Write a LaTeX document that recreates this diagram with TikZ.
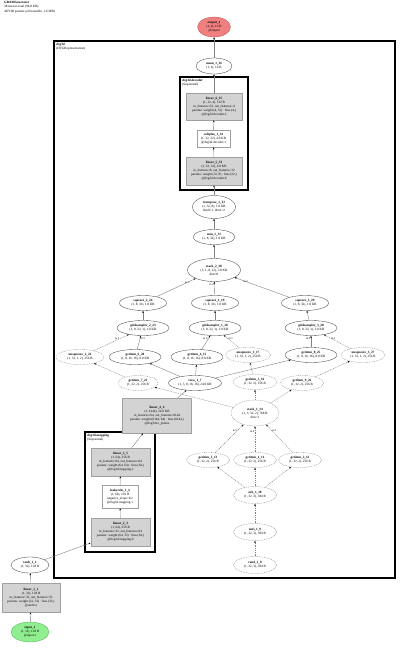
\documentclass[tikz,border=0pt]{standalone}
\usepackage{fontspec}
\setmainfont{Liberation Serif}
\usetikzlibrary{shapes.geometric,arrows.meta}
\newcommand{\fs}{\fontsize{3.3}{4.1}\selectfont}
\newcommand{\fe}{\fontsize{2.8}{3}\selectfont}
\definecolor{modfill}{HTML}{D3D3D3}
\definecolor{modline}{HTML}{A0A0A0}
\definecolor{outfill}{HTML}{F08080}
\definecolor{outline}{HTML}{C05050}
\definecolor{infill}{HTML}{90EE90}
\definecolor{inline}{HTML}{50B050}
\definecolor{edgec}{HTML}{808080}
\tikzset{
  tn/.style={ellipse, draw=black!80, line width=0.3pt, fill=white, inner sep=0pt, font=\fs, align=center},
  tnd/.style={tn, draw=gray, dash pattern=on 1pt off 0.8pt},
  mb/.style={rectangle, draw=modline, fill=modfill, line width=0.5pt, inner sep=0pt, font=\fs, align=center},
  fb/.style={rectangle, draw=modline, fill=white, line width=0.5pt, inner sep=0pt, font=\fs, align=center},
  clu/.style={draw=black, line width=1.1pt},
  e/.style={draw=edgec, line width=0.4pt, -{Stealth[length=2.2pt,width=1.6pt,black]}},
  ed/.style={e, dash pattern=on 1pt off 0.8pt},
  el/.style={font=\fe, inner sep=0.5pt},
  ttl/.style={font=\fs, align=left, anchor=north west, inner sep=0pt}
}
\begin{document}
\begin{tikzpicture}[x=1pt,y=-1pt]
\useasboundingbox (0,0) rectangle (400,648);
% title
\node[ttl] (title) at (4,1.5) {\textbf{GRAMGenerator}\\38 tensors total (96.8 KB)\\407108 params (all trainable, 1.6 MB)};
% clusters
\draw[clu] (54,41) rectangle (395,578);
\node[ttl] (lblouter) at (56,43) {\textbf{dvg3d}\\(DVGRepresentation)};
\draw[clu] (180,77) rectangle (248,190);
\node[ttl] (lbldec) at (182,79) {\textbf{dvg3d.decoder}\\(Sequential)};
\draw[clu] (85,432) rectangle (155,552);
\node[ttl] (lblmap) at (87,434) {\textbf{dvg3d.mapping}\\(Sequential)};
% nodes
\node[tn, fill=outfill, draw=outline, minimum width=33, minimum height=20] (output1) at (214,27) {\textbf{output\_1}\\(1, 4), 16 B\\@output};
\node[tn, minimum width=36, minimum height=16] (mean) at (214,66) {\textbf{mean\_1\_36}\\(1, 4), 16 B};
\node[mb, minimum width=56, minimum height=27] (lin6) at (214,106.5) {\textbf{linear\_6\_35}\\(1, 32, 4), 512 B\\in\_features=32, out\_features=4\\params: weight (4, 32) · bias (4,)\\@dvg3d.decoder.2};
\node[fb, minimum width=33, minimum height=17] (soft) at (213.5,138.5) {\textbf{softplus\_1\_34}\\(1, 32, 32), 4.0 KB\\@dvg3d.decoder.1};
\node[mb, minimum width=56, minimum height=28] (lin5) at (214,171) {\textbf{linear\_5\_33}\\(1, 32, 32), 4.0 KB\\in\_features=8, out\_features=32\\params: weight (32, 8) · bias (32,)\\@dvg3d.decoder.0};
\node[tn, minimum width=43, minimum height=23] (transp) at (214,207) {\textbf{transpose\_1\_32}\\(1, 32, 8), 1.0 KB\\dim0=1, dim1=2};
\node[tn, minimum width=42, minimum height=15] (sum) at (214,237) {\textbf{sum\_1\_31}\\(1, 8, 32), 1.0 KB};
\node[tn, minimum width=53, minimum height=23] (stack2) at (214,270) {\textbf{stack\_2\_30}\\(3, 1, 8, 32), 3.0 KB\\dim=0};
\node[tn, minimum width=47, minimum height=15] (sq2) at (143,303) {\textbf{squeeze\_2\_24}\\(1, 8, 32), 1.0 KB};
\node[tn, minimum width=47, minimum height=15] (sq1) at (215,303) {\textbf{squeeze\_1\_19}\\(1, 8, 32), 1.0 KB};
\node[tn, minimum width=47, minimum height=15] (sq3) at (305,303) {\textbf{squeeze\_3\_29}\\(1, 8, 32), 1.0 KB};
\node[tn, minimum width=52, minimum height=15] (gs2) at (143,328) {\textbf{gridsampler\_2\_23}\\(1, 8, 32, 1), 1.0 KB};
\node[tn, minimum width=52, minimum height=15] (gs1) at (215,328) {\textbf{gridsampler\_1\_18}\\(1, 8, 32, 1), 1.0 KB};
\node[tn, minimum width=52, minimum height=15] (gs3) at (311,328) {\textbf{gridsampler\_3\_28}\\(1, 8, 32, 1), 1.0 KB};
\node[tnd, minimum width=48, minimum height=15] (usq2) at (80,357) {\textbf{unsqueeze\_2\_22}\\(1, 32, 1, 2), 256 B};
\node[tn, minimum width=52, minimum height=15] (gi6) at (135,357) {\textbf{getitem\_6\_20}\\(1, 8, 16, 16), 8.0 KB};
\node[tn, minimum width=52, minimum height=15] (gi4) at (197,357) {\textbf{getitem\_4\_15}\\(1, 8, 16, 16), 8.0 KB};
\node[tnd, minimum width=45, minimum height=15] (usq1) at (248,355) {\textbf{unsqueeze\_1\_17}\\(1, 32, 1, 2), 256 B};
\node[tn, minimum width=52, minimum height=15] (gi8) at (311,355) {\textbf{getitem\_8\_25}\\(1, 8, 16, 16), 8.0 KB};
\node[tnd, minimum width=44, minimum height=15] (usq3) at (363,355) {\textbf{unsqueeze\_3\_27}\\(1, 32, 1, 2), 256 B};
\node[tnd, minimum width=40, minimum height=15] (gi7) at (138,383) {\textbf{getitem\_7\_21}\\(1, 32, 2), 256 B};
\node[tn, minimum width=53, minimum height=15] (view) at (195,383) {\textbf{view\_1\_7}\\(1, 3, 8, 16, 16), 24.0 KB};
\node[tnd, minimum width=44, minimum height=15] (gi5) at (255,382) {\textbf{getitem\_5\_16}\\(1, 32, 2), 256 B};
\node[tnd, minimum width=43, minimum height=15] (gi9) at (302,383) {\textbf{getitem\_9\_26}\\(1, 32, 2), 256 B};
\node[mb, minimum width=69, minimum height=35] (lin4) at (157,415.5) {\textbf{linear\_4\_6}\\(1, 6144), 24.0 KB\\in\_features=64, out\_features=6144\\params: weight (6144, 64) · bias (6144,)\\@dvg3d.to\_planes};
\node[tnd, minimum width=48, minimum height=26] (stack1) at (255,413) {\textbf{stack\_1\_14}\\(1, 3, 32, 2), 768 B\\dim=1};
\node[tnd, minimum width=43, minimum height=15] (gi3) at (208,460) {\textbf{getitem\_3\_13}\\(1, 32, 2), 256 B};
\node[tnd, minimum width=43, minimum height=15] (gi1) at (255,460) {\textbf{getitem\_1\_11}\\(1, 32, 2), 256 B};
\node[tnd, minimum width=43, minimum height=15] (gi2) at (300,460) {\textbf{getitem\_2\_12}\\(1, 32, 2), 256 B};
\node[tnd, minimum width=43, minimum height=17] (sub) at (255,495) {\textbf{sub\_1\_10}\\(1, 32, 3), 384 B};
\node[tnd, minimum width=43, minimum height=17] (mul) at (255,532) {\textbf{mul\_1\_9}\\(1, 32, 3), 384 B};
\node[tnd, minimum width=43, minimum height=17] (rand) at (255,565) {\textbf{rand\_1\_8}\\(1, 32, 3), 384 B};
\node[mb, minimum width=59, minimum height=28] (lin3) at (120.5,462) {\textbf{linear\_3\_5}\\(1, 64), 256 B\\in\_features=64, out\_features=64\\params: weight (64, 64) · bias (64,)\\@dvg3d.mapping.2};
\node[fb, minimum width=36, minimum height=23] (leaky) at (120,496.5) {\textbf{leakyrelu\_1\_4}\\(1, 64), 256 B\\negative\_slope=0.2\\@dvg3d.mapping.1};
\node[mb, minimum width=59, minimum height=28] (lin2) at (120.5,532) {\textbf{linear\_2\_3}\\(1, 64), 256 B\\in\_features=32, out\_features=64\\params: weight (64, 32) · bias (64,)\\@dvg3d.mapping.0};
\node[tn, minimum width=38, minimum height=16] (tanh) at (30,565) {\textbf{tanh\_1\_2}\\(1, 32), 128 B};
\node[mb, minimum width=58, minimum height=29] (lin1) at (31,597.5) {\textbf{linear\_1\_1}\\(1, 32), 128 B\\in\_features=32, out\_features=32\\params: weight (32, 32) · bias (32,)\\@anchor};
\node[tn, fill=infill, draw=inline, minimum width=38, minimum height=20] (input1) at (30,632) {\textbf{input\_1}\\(1, 32), 128 B\\@input.x};
% edges
\draw[e] (input1) -- (lin1);
\draw[e] (lin1) -- (tanh);
\draw[e] (tanh) -- (lin2);
\draw[e] (lin2) -- (leaky);
\draw[e] (leaky) -- (lin3);
\draw[e] (lin3) -- (lin4);
\draw[e] (lin4) -- (view);
\draw[ed] (rand) -- (mul);
\draw[ed] (mul) -- (sub);
\draw[ed] (sub) -- (gi3);
\draw[ed] (sub) -- (gi1);
\draw[ed] (sub) -- (gi2);
\draw[ed] (gi3) -- node[el, pos=0.8, left] {in 2} (stack1);
\draw[ed] (gi1) -- node[el, pos=0.8, left] {in 0} (stack1);
\draw[ed] (gi2) -- node[el, pos=0.8, right] {in 1} (stack1);
\draw[ed] (stack1) -- (gi5);
\draw[ed] (stack1) -- (gi7);
\draw[ed] (stack1) -- (gi9);
\draw[e] (view) -- (gi4);
\draw[e] (view) -- (gi6);
\draw[e] (view) -- (gi8);
\draw[ed] (gi5) -- (usq1);
\draw[ed] (gi7) -- (usq2);
\draw[ed] (gi9) -- (usq3);
\draw[e] (gi4) -- node[el, pos=0.75, left] {in 0} (gs1);
\draw[ed] (usq1) -- node[el, pos=0.75, right] {in 1} (gs1);
\draw[e] (gi6) -- node[el, pos=0.75, right] {in 0} (gs2);
\draw[ed] (usq2) -- node[el, pos=0.75, left] {in 1} (gs2);
\draw[e] (gi8) -- node[el, pos=0.75, left] {in 0} (gs3);
\draw[ed] (usq3) -- node[el, pos=0.75, right] {in 1} (gs3);
\draw[e] (gs1) -- (sq1);
\draw[e] (gs2) -- (sq2);
\draw[e] (gs3) -- (sq3);
\draw[e] (sq1) -- node[el, pos=0.8, left] {in 0} (stack2);
\draw[e] (sq2) -- node[el, pos=0.85, below left] {in 1} (stack2);
\draw[e] (sq3) -- node[el, pos=0.85, below right] {in 2} (stack2);
\draw[e] (stack2) -- (sum);
\draw[e] (sum) -- (transp);
\draw[e] (transp) -- (lin5);
\draw[e] (lin5) -- (soft);
\draw[e] (soft) -- (lin6);
\draw[e] (lin6) -- (mean);
\draw[e] (mean) -- (output1);
\end{tikzpicture}
\end{document}
